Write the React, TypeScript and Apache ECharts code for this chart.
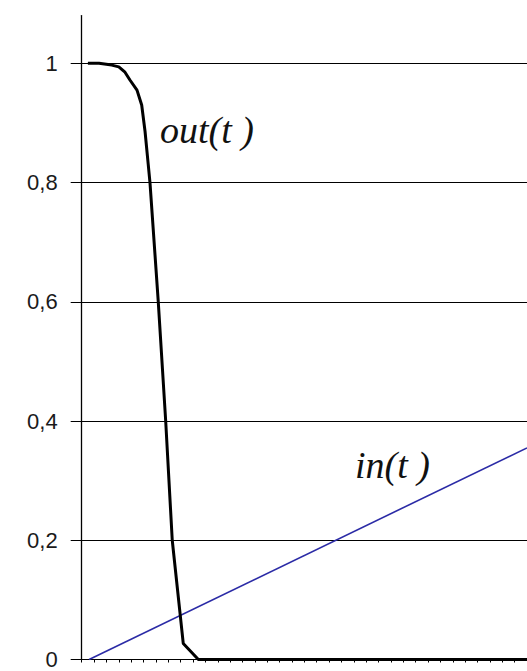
import React, { useEffect, useRef } from "react";
import * as echarts from "echarts";

// Time samples (axis units) and values for the output curve
const outT = [0.5, 1.4, 2.43, 3.0, 3.5, 3.9, 4.47, 4.85, 5.12, 5.38, 5.52, 6.19, 6.79, 7.32, 8.21, 9.43, 36];
const outV = [1.0, 1.0, 0.997, 0.994, 0.985, 0.972, 0.955, 0.93, 0.886, 0.83, 0.8, 0.6, 0.4, 0.2, 0.027, 0, 0];

// Input ramp
const inT = [0.6, 36];
const inV = [0, 0.355];

const pairs = (xs: number[], ys: number[]) => xs.map((x, i) => [x, ys[i]]);

export default function App() {
  const ref = useRef<HTMLDivElement>(null);

  useEffect(() => {
    if (!ref.current) return;
    const chart = echarts.init(ref.current, null, { renderer: "svg" });
    chart.setOption({
      animation: false,
      backgroundColor: "#ffffff",
      grid: { left: 81.7, right: 0, top: 15.6, bottom: 11.5, containLabel: false },
      xAxis: {
        type: "value",
        min: 0,
        max: 36,
        interval: 1,
        axisLine: { show: true, onZero: false, lineStyle: { color: "#000", width: 1.2 } },
        axisTick: { show: true, inside: false, length: 3, lineStyle: { color: "#000", width: 1 } },
        axisLabel: { show: false },
        splitLine: { show: false },
      },
      yAxis: {
        type: "value",
        min: 0,
        max: 1.08,
        interval: 0.2,
        axisLine: { show: true, lineStyle: { color: "#000", width: 1.3 } },
        axisTick: {
          show: true,
          inside: false,
          length: 11,
          lineStyle: { color: "#000", width: 1 },
        },
        axisLabel: {
          show: true,
          showMaxLabel: false,
          margin: 24,
          color: "#1a1a1a",
          fontFamily: "Liberation Sans, Arial, sans-serif",
          fontSize: 22,
          formatter: (v: number) => String(Math.round(v * 10) / 10).replace(".", ","),
        },
        splitLine: {
          show: true,
          showMaxLine: false,
          lineStyle: { color: "#000", width: 1 },
        },
      },
      series: [
        {
          name: "in(t)",
          type: "line",
          data: pairs(inT, inV),
          showSymbol: false,
          symbol: "none",
          lineStyle: { color: "#2b2ba6", width: 1.6 },
          z: 3,
        },
        {
          name: "out(t)",
          type: "line",
          data: pairs(outT, outV),
          showSymbol: false,
          symbol: "none",
          lineStyle: { color: "#000", width: 3, join: "round" },
          z: 4,
        },
      ],
      graphic: [
        {
          type: "text",
          left: 160,
          top: 111,
          style: {
            text: "out(t )",
            font: "italic 38px 'Liberation Serif', 'DejaVu Serif', serif",
            fill: "#111",
          },
        },
        {
          type: "text",
          left: 355,
          top: 446,
          style: {
            text: "in(t )",
            font: "italic 38px 'Liberation Serif', 'DejaVu Serif', serif",
            fill: "#111",
          },
        },
      ],
    });
    return () => chart.dispose();
  }, []);

  return (
    <div
      ref={ref}
      style={{ position: "fixed", left: 0, top: 0, width: 527, height: 671, background: "#fff" }}
    />
  );
}
